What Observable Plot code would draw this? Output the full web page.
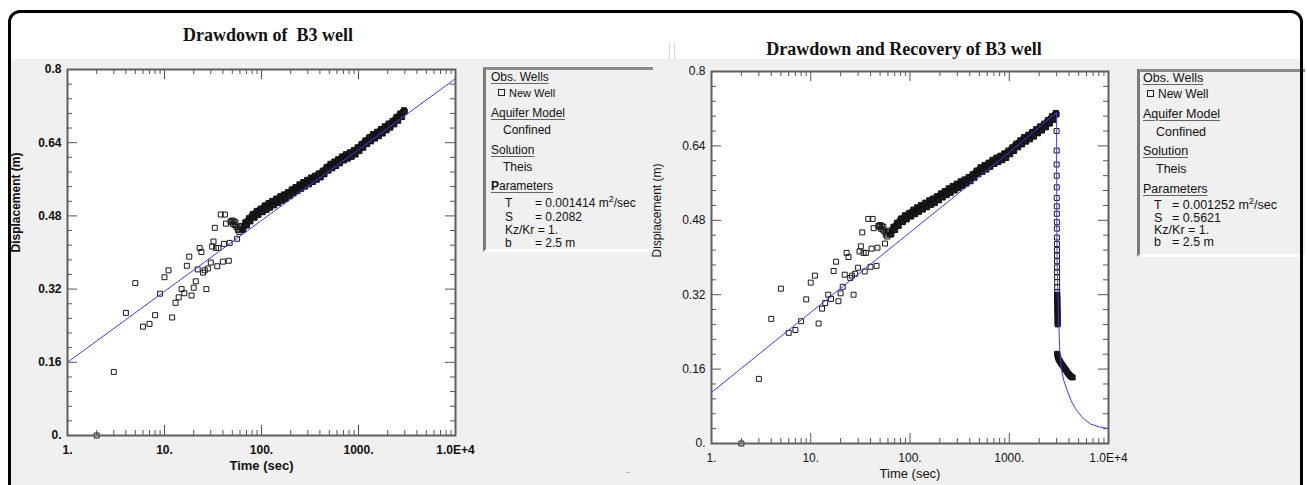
<!DOCTYPE html>
<html><head><meta charset="utf-8">
<script src="https://cdn.jsdelivr.net/npm/d3@7"></script>
<script src="https://cdn.jsdelivr.net/npm/@observablehq/plot@0.6"></script>
<style>
body{margin:0;background:#fff;font-family:"Liberation Sans",Arial,sans-serif;}
#root{position:relative;width:1307px;height:485px;overflow:hidden;background:#fff;}
.abs{position:absolute;}
.title{position:absolute;font-family:"Liberation Serif","Times New Roman",serif;font-weight:bold;font-size:18px;white-space:nowrap;transform:translate(-50%,-50%);color:#111;}
.leg{position:absolute;background:#f0f0f0;border-left:3px solid #7a7a7a;border-top:3px solid #8a8a8a;border-bottom:3px solid #fff;box-sizing:border-box;}
.li{position:absolute;white-space:nowrap;line-height:14px;height:14px;color:#111;}
.hd{text-decoration:underline;text-decoration-color:#666;text-underline-offset:2px;}
.sq{display:inline-block;width:5px;height:5px;border:1px solid #222;vertical-align:1px;margin-right:4px;}
.plot{position:absolute;top:0;}
</style></head>
<body>
<div id="root">
  <div class="abs" style="left:11px;top:59px;width:1290px;height:430px;background:#f0f0f0;"></div>
  <div class="abs" style="left:669px;top:42px;width:4px;height:18px;border-left:1px solid #d8d8d8;border-right:1px solid #d8d8d8;"></div>
  <div class="title" style="left:268px;top:35px;">Drawdown of&nbsp; B3 well</div>
  <div class="title" style="left:904px;top:49px;">Drawdown and Recovery of B3 well</div>
  <div id="plotA" class="plot" style="left:0px;"></div>
  <div id="plotB" class="plot" style="left:640px;"></div>

  <div class="leg" style="left:483px;top:67px;width:170px;height:185px;"></div>
  <div class="li hd" style="left:491px;top:70px;font-size:12px;">Obs. Wells</div>
  <div class="li" style="left:498px;top:86px;font-size:11px;"><span class="sq"></span>New Well</div>
  <div class="li hd" style="left:491px;top:106px;font-size:12px;">Aquifer Model</div>
  <div class="li" style="left:503px;top:123px;font-size:12px;">Confined</div>
  <div class="li hd" style="left:491px;top:143px;font-size:12px;">Solution</div>
  <div class="li" style="left:503px;top:160px;font-size:12px;">Theis</div>
  <div class="li hd" style="left:491px;top:179px;font-size:12px;"><b>P</b>arameters</div>
  <div class="li" style="left:505px;top:196px;font-size:12px;">T</div><div class="li" style="left:535px;top:196px;font-size:12px;">= 0.001414 m<sup style="font-size:9px;line-height:0">2</sup>/sec</div>
  <div class="li" style="left:505px;top:210px;font-size:12px;">S</div><div class="li" style="left:535px;top:210px;font-size:12px;">= 0.2082</div>
  <div class="li" style="left:505px;top:223px;font-size:12px;">Kz/Kr = 1.</div>
  <div class="li" style="left:505px;top:236px;font-size:12px;">b</div><div class="li" style="left:535px;top:236px;font-size:12px;">= 2.5 m</div>

  <div class="leg" style="left:1137px;top:69px;width:168px;height:188px;"></div>
  <div class="li hd" style="left:1143px;top:71px;font-size:12.5px;">Obs. Wells</div>
  <div class="li" style="left:1147px;top:87px;font-size:12px;"><span class="sq"></span>New Well</div>
  <div class="li hd" style="left:1143px;top:107px;font-size:12.5px;">Aquifer Model</div>
  <div class="li" style="left:1156px;top:125px;font-size:12.5px;">Confined</div>
  <div class="li hd" style="left:1143px;top:144px;font-size:12.5px;">Solution</div>
  <div class="li" style="left:1156px;top:162px;font-size:12.5px;">Theis</div>
  <div class="li hd" style="left:1143px;top:182px;font-size:12.5px;">Parameters</div>
  <div class="li" style="left:1154px;top:198px;font-size:12.5px;">T</div><div class="li" style="left:1172px;top:198px;font-size:12.5px;">= 0.001252 m<sup style="font-size:9.5px;line-height:0">2</sup>/sec</div>
  <div class="li" style="left:1154px;top:211px;font-size:12.5px;">S</div><div class="li" style="left:1172px;top:211px;font-size:12.5px;">= 0.5621</div>
  <div class="li" style="left:1154px;top:223px;font-size:12.5px;">Kz/Kr = 1.</div>
  <div class="li" style="left:1154px;top:235px;font-size:12.5px;">b</div><div class="li" style="left:1172px;top:235px;font-size:12.5px;">= 2.5 m</div>

  <div class="abs" style="left:626px;top:466px;font-size:8px;color:#333;">..</div>
  <div class="abs" style="left:8px;top:10px;width:1295px;height:500px;border:3px solid #000;border-radius:12px;box-sizing:border-box;"></div>
</div>
<script>
// ---- tick values and labels ----
const xMajor = [1, 10, 100, 1000, 10000];
const xMajorLabels = ["1.", "10.", "100.", "1000.", "1.0E+4"];
const xMinor = [2,3,4,5,6,7,8,9,20,30,40,50,60,70,80,90,200,300,400,500,600,700,800,900,2000,3000,4000,5000,6000,7000,8000,9000];
const yMajor = [0, 0.16, 0.32, 0.48, 0.64, 0.8];
const yMajorLabels = ["0.", "0.16", "0.32", "0.48", "0.64", "0.8"];
const yMinor = [0.032,0.064,0.096,0.128,0.192,0.224,0.256,0.288,0.352,0.384,0.416,0.448,0.512,0.544,0.576,0.608,0.672,0.704,0.736,0.768];

// ---- observed drawdown (New Well), time in s, displacement in m ----
// early, scattered readings
const earlyTime = [2,3,4,5,6,7,8,9,10,11,12,13,14,15,16,17,18,19,20,21,22,23,24,25,26,27,28,30,31,32,33,34,35,36,38,40,41,42,43,46,47,48,49,50,51,52,53,54,55,56,57,58,59,60,62,63];
const earlyDisp = [0.0,0.139,0.268,0.333,0.238,0.244,0.263,0.310,0.346,0.361,0.258,0.290,0.302,0.320,0.311,0.371,0.391,0.306,0.323,0.337,0.363,0.410,0.401,0.356,0.361,0.320,0.365,0.378,0.413,0.424,0.454,0.410,0.370,0.410,0.483,0.380,0.419,0.483,0.463,0.382,0.421,0.468,0.466,0.470,0.462,0.468,0.460,0.466,0.456,0.430,0.449,0.452,0.445,0.455,0.458,0.449];
// dense, overlapping readings (one per few seconds in the record)
const denseTime = [65,66,68,69,71,72,74,75,77,79,81,83,85,87,89,91,93,95,98,100,103,105,108,110,113,115,118,120,123,126,129,132,135,138,142,145,149,152,156,159,163,166,170,174,178,182,187,191,196,200,205,209,214,219,224,229,235,240,246,251,257,263,269,275,282,288,295,302,309,316,324,331,339,347,355,363,372,380,389,398,408,417,427,437,447,457,468,479,490,501,513,525,538,550,563,575,589,603,617,631,646,661,677,692,708,724,742,759,777,794,813,832,852,871,892,912,934,955,978,1000,1024,1047,1072,1096,1122,1148,1175,1202,1231,1259,1289,1318,1349,1380,1413,1445,1480,1514,1550,1585,1623,1660,1699,1738,1779,1820,1863,1905,1950,1995,2042,2089,2139,2188,2240,2291,2345,2399,2456,2512,2571,2630,2692,2754,2819,2884,2942,3000];
const denseDisp = [0.450,0.458,0.466,0.460,0.459,0.469,0.475,0.469,0.468,0.479,0.484,0.477,0.476,0.486,0.491,0.484,0.482,0.492,0.496,0.489,0.488,0.498,0.503,0.495,0.493,0.503,0.508,0.500,0.498,0.508,0.513,0.505,0.503,0.513,0.518,0.510,0.508,0.518,0.523,0.515,0.513,0.523,0.527,0.519,0.517,0.527,0.532,0.524,0.523,0.533,0.538,0.530,0.529,0.539,0.543,0.535,0.534,0.544,0.549,0.541,0.539,0.549,0.554,0.546,0.544,0.554,0.559,0.551,0.549,0.559,0.564,0.556,0.554,0.564,0.568,0.560,0.559,0.569,0.573,0.565,0.564,0.574,0.579,0.572,0.571,0.582,0.587,0.580,0.579,0.589,0.594,0.586,0.584,0.594,0.599,0.591,0.589,0.599,0.604,0.596,0.595,0.605,0.610,0.602,0.601,0.611,0.615,0.607,0.605,0.615,0.619,0.611,0.609,0.619,0.624,0.616,0.614,0.625,0.630,0.623,0.622,0.632,0.637,0.630,0.629,0.640,0.645,0.638,0.637,0.647,0.652,0.644,0.643,0.654,0.659,0.651,0.649,0.659,0.664,0.656,0.654,0.665,0.670,0.662,0.660,0.671,0.676,0.668,0.667,0.677,0.682,0.674,0.673,0.683,0.688,0.681,0.680,0.691,0.696,0.689,0.688,0.699,0.704,0.697,0.696,0.707,0.711,0.708];

// ---- observed recovery (right chart only) ----
const recStackTime = [3002,3004,3006,3008,3010,3012,3014,3016,3018,3020,3022,3024,3026,3028,3030,3032,3034,3036,3038,3040,3042];
const recStackDisp = [0.672,0.630,0.600,0.576,0.551,0.528,0.510,0.494,0.476,0.462,0.443,0.429,0.416,0.404,0.392,0.379,0.368,0.358,0.347,0.336,0.326];
const recDenseTime = [3044,3046,3048,3050,3052,3054,3056,3058,3060,3062,3064,3066,3068,3070,3072,3074,3076,
  3040,3070,3100,3150,3210,3280,3360,3450,3550,3650,3750,3850,3950,4050,4150,4250,4350];
const recDenseDisp = [0.320,0.316,0.312,0.308,0.304,0.300,0.296,0.292,0.288,0.284,0.280,0.276,0.272,0.268,0.264,0.260,0.256,
  0.193,0.189,0.185,0.181,0.178,0.175,0.171,0.168,0.164,0.160,0.157,0.153,0.150,0.147,0.145,0.143,0.142];

// ---- Theis type curves ----
const modelTimeA = [1, 10, 100, 1000, 10000];
const modelDispA = [0.160, 0.315, 0.470, 0.625, 0.780];
const modelTimeB = [1, 10, 100, 1000, 3000, 3001, 3003, 3010, 3030, 3084, 3157, 3230, 3350, 3546, 3837, 4200, 4648, 5500, 6586, 8000, 10000];
const modelDispB = [0.110, 0.282, 0.454, 0.626, 0.712, 0.660, 0.600, 0.500, 0.400, 0.329, 0.257, 0.200, 0.160, 0.135, 0.114, 0.092, 0.075, 0.055, 0.042, 0.036, 0.032];

const xLab = new Map(xMajor.map((v, i) => [v, xMajorLabels[i]]));
const yLab = new Map(yMajor.map((v, i) => [v, yMajorLabels[i]]));
const toRows = (ts, ds) => ts.map((t, i) => ({t, d: ds[i]}));

function makePlot({W, H, ml, mr, mt, mb, bold, sparse, dense, model, ylabDx}) {
  const fw = W - ml - mr, fh = H - mt - mb;
  const tc = "#555";
  return Plot.plot({
    width: W, height: H,
    marginLeft: ml, marginRight: mr, marginTop: mt, marginBottom: mb,
    x: {type: "log", domain: [1, 10000]},
    y: {domain: [0, 0.8]},
    style: {background: "transparent", fontFamily: "'Liberation Sans', Arial, sans-serif", fontSize: "12px", fontWeight: bold ? "bold" : "normal", color: "#111", overflow: "visible"},
    marks: [
      Plot.frame({fill: "white", stroke: null}),
      Plot.tickY(yMinor, {y: d => d, stroke: tc, insetRight: fw - 5}),
      Plot.tickY(yMajor, {y: d => d, stroke: tc, insetRight: fw - 10}),
      Plot.tickY(yMinor, {y: d => d, stroke: tc, insetLeft: fw - 5}),
      Plot.tickY(yMajor, {y: d => d, stroke: tc, insetLeft: fw - 10}),
      Plot.tickX(xMinor, {x: d => d, stroke: tc, insetTop: fh - 5}),
      Plot.tickX(xMajor, {x: d => d, stroke: tc, insetTop: fh - 10}),
      Plot.tickX(xMinor, {x: d => d, stroke: tc, insetBottom: fh - 5}),
      Plot.tickX(xMajor, {x: d => d, stroke: tc, insetBottom: fh - 10}),
      Plot.dot(sparse, {x: "t", y: "d", symbol: "square", r: 2.8, stroke: "#1a1a1a", fill: "none", strokeWidth: 1}),
      Plot.dot(dense, {x: "t", y: "d", symbol: "square", r: 2.8, stroke: "#111", fill: "#1c1c1c", strokeWidth: 1}),
      Plot.line(model, {x: "t", y: "d", stroke: "#3a3aff", strokeWidth: 1}),
      Plot.frame({stroke: "#5e5e5e", strokeWidth: 2}),
      Plot.axisX(xMajor, {tickSize: 0, tickPadding: 10, tickFormat: d => xLab.get(d), label: null}),
      Plot.axisY(yMajor, {tickSize: 0, tickPadding: 6, tickFormat: d => yLab.get(d), label: null}),
      Plot.text(["Time (sec)"], {frameAnchor: "bottom", dy: 34, fontSize: 13}),
      Plot.text(["Displacement (m)"], {frameAnchor: "left", rotate: -90, dx: ylabDx, fontSize: 12})
    ]
  });
}

const early = toRows(earlyTime, earlyDisp);
const dense = toRows(denseTime, denseDisp);

document.getElementById("plotA").append(makePlot({
  W: 480, H: 485, ml: 67, mr: 25, mt: 69, mb: 50, bold: true,
  sparse: early, dense: dense, model: toRows(modelTimeA, modelDispA), ylabDx: -51
}));
document.getElementById("plotB").append(makePlot({
  W: 480, H: 485, ml: 71, mr: 12, mt: 71, mb: 42, bold: false,
  sparse: early.concat(toRows(recStackTime, recStackDisp)),
  dense: dense.concat(toRows(recDenseTime, recDenseDisp)),
  model: toRows(modelTimeB, modelDispB), ylabDx: -54
}));
</script>
</body></html>
